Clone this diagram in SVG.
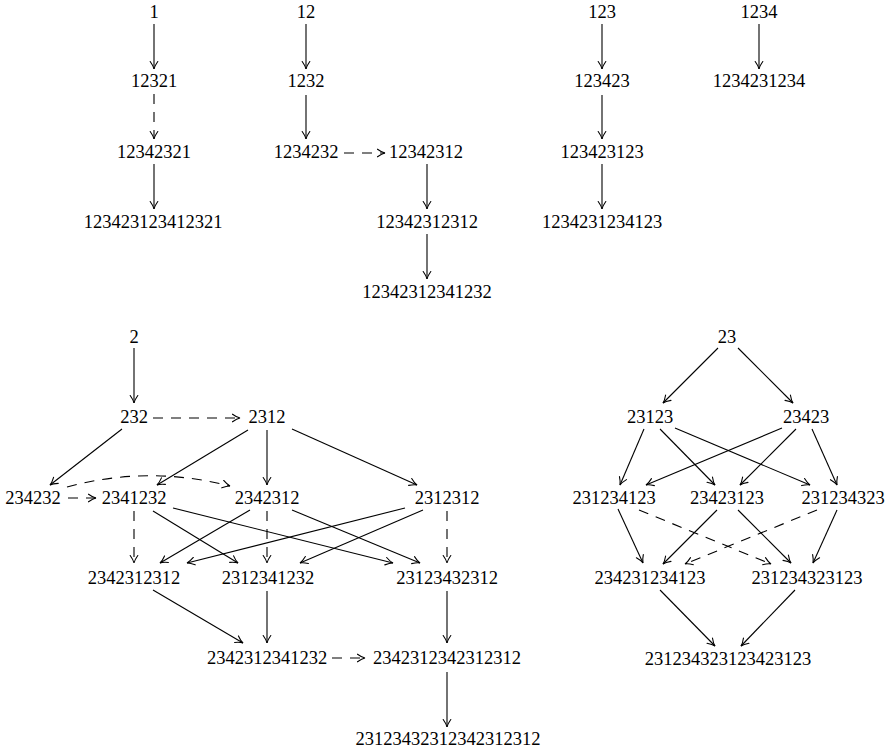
<svg xmlns="http://www.w3.org/2000/svg" width="890" height="752" viewBox="0 0 890 752">
<defs>
<marker id="ah" markerUnits="userSpaceOnUse" markerWidth="12" markerHeight="12" viewBox="-9 -6 12 12" refX="0" refY="0" orient="auto">
<path d="M -7.5 -3.8 Q -3 -0.6 0 0 Q -3 0.6 -7.5 3.8" fill="none" stroke="#000" stroke-width="1.1" stroke-linecap="round"/>
</marker>
<style>
text { font-family: "Liberation Serif", "Times New Roman", serif; font-size: 18.5px; fill: #000; text-anchor: middle; }
.e { fill: none; stroke: #000; stroke-width: 1.1; marker-end: url(#ah); }
.d { stroke-dasharray: 10 8; }
</style>
</defs>
<rect width="890" height="752" fill="#fff"/>
<g id="connectors">
<line class="e" x1="154" y1="24" x2="154" y2="69"/>
<line class="e d" x1="154" y1="94" x2="154" y2="139"/>
<line class="e" x1="154" y1="164" x2="154" y2="209"/>
<line class="e" x1="306" y1="24" x2="306" y2="69"/>
<line class="e" x1="306" y1="95" x2="306" y2="139"/>
<line class="e d" x1="344" y1="153" x2="385" y2="153"/>
<line class="e" x1="427" y1="164" x2="427" y2="209"/>
<line class="e" x1="427" y1="234" x2="427" y2="279"/>
<line class="e" x1="602" y1="24" x2="602" y2="69"/>
<line class="e" x1="602" y1="95" x2="602" y2="139"/>
<line class="e" x1="602" y1="164" x2="602" y2="209"/>
<line class="e" x1="759" y1="24" x2="759" y2="69"/>
<line class="e" x1="134" y1="348" x2="134" y2="403"/>
<line class="e d" x1="153" y1="418" x2="240" y2="418"/>
<line class="e" x1="122" y1="429" x2="50" y2="485"/>
<line class="e" x1="248" y1="430" x2="157" y2="485"/>
<line class="e" x1="267" y1="430" x2="267" y2="485"/>
<line class="e" x1="292" y1="429" x2="417" y2="485"/>
<path class="e d" d="M 67 487 Q 148 465 230 486"/>
<line class="e d" x1="68" y1="498" x2="96" y2="498"/>
<line class="e d" x1="134" y1="511" x2="134" y2="563"/>
<line class="e" x1="153" y1="511" x2="238" y2="563"/>
<line class="e" x1="173" y1="508" x2="393" y2="563"/>
<line class="e" x1="250" y1="510" x2="160" y2="563"/>
<line class="e d" x1="267" y1="511" x2="267" y2="563"/>
<line class="e" x1="292" y1="510" x2="420" y2="563"/>
<line class="e" x1="405" y1="508" x2="187" y2="563"/>
<line class="e" x1="423" y1="510" x2="300" y2="563"/>
<line class="e d" x1="447" y1="511" x2="447" y2="563"/>
<line class="e" x1="153" y1="590" x2="243" y2="643"/>
<line class="e" x1="267" y1="591" x2="267" y2="643"/>
<line class="e" x1="447" y1="591" x2="447" y2="643"/>
<line class="e d" x1="332" y1="658" x2="365" y2="658"/>
<line class="e" x1="447" y1="672" x2="447" y2="727"/>
<line class="e" x1="718" y1="348" x2="663" y2="403"/>
<line class="e" x1="738" y1="348" x2="793" y2="403"/>
<line class="e" x1="644" y1="429" x2="620" y2="485"/>
<line class="e" x1="660" y1="429" x2="715" y2="485"/>
<line class="e" x1="675" y1="428" x2="810" y2="485"/>
<line class="e" x1="782" y1="428" x2="646" y2="485"/>
<line class="e" x1="796" y1="429" x2="740" y2="485"/>
<line class="e" x1="812" y1="429" x2="837" y2="485"/>
<line class="e" x1="618" y1="509" x2="643" y2="563"/>
<line class="e d" x1="639" y1="510" x2="771" y2="564"/>
<line class="e" x1="717" y1="510" x2="663" y2="564"/>
<line class="e" x1="738" y1="510" x2="791" y2="563"/>
<line class="e d" x1="817" y1="510" x2="685" y2="564"/>
<line class="e" x1="837" y1="510" x2="813" y2="563"/>
<line class="e" x1="660" y1="590" x2="715" y2="646"/>
<line class="e" x1="795" y1="590" x2="741" y2="646"/>
</g>
<g id="n_1"><text x="154" y="18">1</text></g>
<g id="n_12321"><text x="154" y="87">12321</text></g>
<g id="n_12342321"><text x="154" y="158">12342321</text></g>
<g id="n_123423123412321"><text x="153" y="228">123423123412321</text></g>
<g id="n_12"><text x="306" y="18">12</text></g>
<g id="n_1232"><text x="306" y="87">1232</text></g>
<g id="n_1234232"><text x="306" y="158">1234232</text></g>
<g id="n_12342312"><text x="426" y="158">12342312</text></g>
<g id="n_12342312312"><text x="427" y="228">12342312312</text></g>
<g id="n_12342312341232"><text x="427" y="298">12342312341232</text></g>
<g id="n_123"><text x="602" y="18">123</text></g>
<g id="n_123423"><text x="602" y="87">123423</text></g>
<g id="n_123423123"><text x="602" y="158">123423123</text></g>
<g id="n_1234231234123"><text x="602" y="228">1234231234123</text></g>
<g id="n_1234"><text x="759" y="18">1234</text></g>
<g id="n_1234231234"><text x="759" y="87">1234231234</text></g>
<g id="n_2"><text x="134" y="343">2</text></g>
<g id="n_232"><text x="134" y="423">232</text></g>
<g id="n_2312"><text x="267" y="423">2312</text></g>
<g id="n_234232"><text x="33" y="504">234232</text></g>
<g id="n_2341232"><text x="134" y="504">2341232</text></g>
<g id="n_2342312"><text x="267" y="504">2342312</text></g>
<g id="n_2312312"><text x="447" y="504">2312312</text></g>
<g id="n_2342312312"><text x="134" y="584">2342312312</text></g>
<g id="n_2312341232"><text x="268" y="584">2312341232</text></g>
<g id="n_23123432312"><text x="447" y="584">23123432312</text></g>
<g id="n_2342312341232"><text x="267" y="664">2342312341232</text></g>
<g id="n_2342312342312312"><text x="447" y="664">2342312342312312</text></g>
<g id="n_23123432312342312312"><text x="448" y="745">23123432312342312312</text></g>
<g id="n_23"><text x="727" y="343">23</text></g>
<g id="n_23123"><text x="650" y="423">23123</text></g>
<g id="n_23423"><text x="806" y="423">23423</text></g>
<g id="n_231234123"><text x="614" y="504">231234123</text></g>
<g id="n_23423123"><text x="727" y="504">23423123</text></g>
<g id="n_231234323"><text x="843" y="504">231234323</text></g>
<g id="n_234231234123"><text x="650" y="584">234231234123</text></g>
<g id="n_231234323123"><text x="807" y="584">231234323123</text></g>
<g id="n_231234323123423123"><text x="728" y="665">231234323123423123</text></g>
</svg>
